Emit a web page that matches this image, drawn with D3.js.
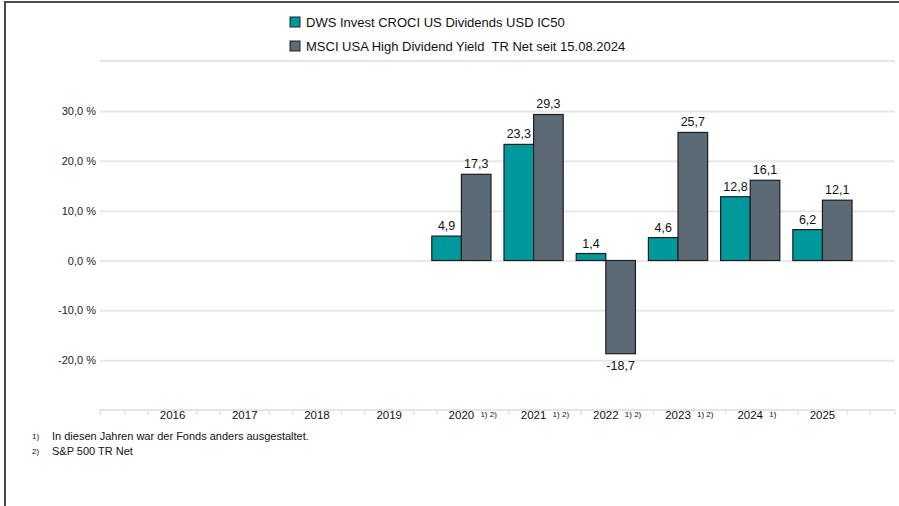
<!DOCTYPE html>
<html>
<head>
<meta charset="utf-8">
<script src="https://cdn.jsdelivr.net/npm/d3@7/dist/d3.min.js"></script>
<style>
  body { margin: 0; background: #fff; }
  svg { font-family: "Liberation Sans", Arial, sans-serif; display: block; }
</style>
</head>
<body>
<svg id="chart" width="899" height="506"></svg>
<script>
// chart data
const years = ["2016", "2017", "2018", "2019", "2020", "2021", "2022", "2023", "2024", "2025"];
const yearNotes = ["", "", "", "", "1) 2)", "1) 2)", "1) 2)", "1) 2)", "1)", ""];
const fundValues = [null, null, null, null, 4.9, 23.3, 1.4, 4.6, 12.8, 6.2];
const indexValues = [null, null, null, null, 17.3, 29.3, -18.7, 25.7, 16.1, 12.1];
const seriesNames = ["DWS Invest CROCI US Dividends USD IC50", "MSCI USA High Dividend Yield  TR Net seit 15.08.2024"];
const yTicks = [30, 20, 10, 0, -10, -20];
const footnotes = [["1)", "In diesen Jahren war der Fonds anders ausgestaltet."], ["2)", "S&P 500 TR Net"]];

const colors = ["#00999b", "#5b6a75"];
const svg = d3.select("#chart");

// german number format, plain hyphen for minus
function de(v) { return v.toFixed(1).replace(".", ","); }

// frame
svg.append("line").attr("x1", 4).attr("x2", 899).attr("y1", 2).attr("y2", 2)
    .attr("stroke", "#4a4a4a").attr("stroke-width", 2);
svg.append("line").attr("x1", 5).attr("x2", 5).attr("y1", 1).attr("y2", 506)
    .attr("stroke", "#4a4a4a").attr("stroke-width", 2);

const left = 100, right = 895;
const x = d3.scaleBand().domain(years).range([left, right]).paddingOuter(0.595).paddingInner(0.18);
const x1 = d3.scaleBand().domain([0, 1]).range([0, x.bandwidth()]);
const y = d3.scaleLinear().domain([-30, 30]).range([410, 111]);

// separator under legend
svg.append("line").attr("x1", left).attr("x2", right).attr("y1", 61).attr("y2", 61)
    .attr("stroke", "#e6e6e6").attr("stroke-width", 2);

// legend
const legend = svg.append("g");
seriesNames.forEach(function(name, i) {
    const g = legend.append("g").attr("transform", "translate(290," + (17 + i * 24) + ")");
    g.append("rect").attr("width", 10).attr("height", 10)
        .attr("fill", colors[i]).attr("stroke", "#222").attr("stroke-width", 1);
    g.append("text").attr("x", 16).attr("y", 9.5).attr("font-size", 13).attr("fill", "#111")
        .style("white-space", "pre").text(name);
});

// y grid and labels
const yAxis = d3.axisLeft(y).tickValues(yTicks).tickSize(-(right - left))
    .tickFormat(function(d) { return de(d) + " %"; });
svg.append("g").attr("transform", "translate(" + left + ",0)").call(yAxis)
    .call(function(g) {
        g.select(".domain").remove();
        g.selectAll(".tick line").attr("stroke", "#e8e8e8").attr("stroke-width", 2);
        g.selectAll(".tick text").attr("x", -4).attr("font-size", 11).attr("fill", "#222")
            .attr("font-family", "Liberation Sans, Arial, sans-serif");
    });

// x axis baseline and light ticks
const base = y(-30);
svg.append("line").attr("x1", left).attr("x2", right).attr("y1", base).attr("y2", base)
    .attr("stroke", "#e4e4e4").attr("stroke-width", 2);
const half = x.step() * 0.34;
let tickX = [left, right, x(years[0]) + x.bandwidth() / 2 - x.step() + half,
    x(years[years.length - 1]) + x.bandwidth() / 2 + x.step() - half];
years.forEach(function(yr) {
    const c = x(yr) + x.bandwidth() / 2;
    tickX.push(c - half, c + half);
});
svg.append("g").selectAll("line").data(tickX).join("line")
    .attr("x1", function(d) { return d; }).attr("x2", function(d) { return d; })
    .attr("y1", base).attr("y2", base + 5)
    .attr("stroke", "#e4e4e4").attr("stroke-width", 1.5);

// x labels
const xl = svg.append("g").selectAll("g").data(years).join("g")
    .attr("transform", function(d) { return "translate(" + (x(d) + x.bandwidth() / 2) + ",419)"; });
xl.append("text").attr("text-anchor", "middle").attr("font-size", 11.5).attr("fill", "#111")
    .text(function(d) { return d; });
xl.append("text").attr("x", 19).attr("y", -2).attr("font-size", 8).attr("fill", "#111")
    .text(function(d, i) { return yearNotes[i]; });

// bars
const rows = [];
years.forEach(function(yr, i) {
    [fundValues[i], indexValues[i]].forEach(function(v, s) {
        if (v !== null) rows.push({year: yr, s: s, v: v});
    });
});
svg.append("g").selectAll("rect").data(rows).join("rect")
    .attr("x", function(d) { return x(d.year) + x1(d.s); })
    .attr("width", x1.bandwidth())
    .attr("y", function(d) { return y(Math.max(0, d.v)); })
    .attr("height", function(d) { return Math.abs(y(d.v) - y(0)); })
    .attr("fill", function(d) { return colors[d.s]; })
    .attr("stroke", "#1e1e1e").attr("stroke-width", 1.2);

// value labels
svg.append("g").selectAll("text").data(rows).join("text")
    .attr("x", function(d) { return x(d.year) + x1(d.s) + x1.bandwidth() / 2; })
    .attr("y", function(d) { return d.v >= 0 ? y(d.v) - 6 : y(d.v) + 16; })
    .attr("text-anchor", "middle").attr("font-size", 12.5).attr("fill", "#111")
    .text(function(d) { return de(d.v); });

// footnotes
footnotes.forEach(function(f, i) {
    const yy = 440 + i * 15;
    svg.append("text").attr("x", 32).attr("y", yy - 1).attr("font-size", 8).attr("fill", "#111").text(f[0]);
    svg.append("text").attr("x", 52).attr("y", yy).attr("font-size", 11).attr("fill", "#111").text(f[1]);
});
</script>
</body>
</html>
